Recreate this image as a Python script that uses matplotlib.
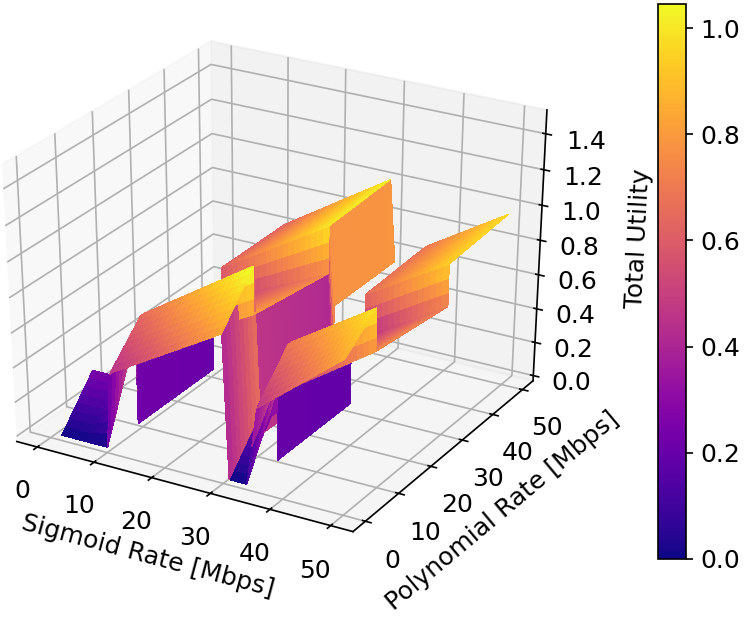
import types
import numpy as np
import matplotlib
matplotlib.use("Agg")
import matplotlib.pyplot as plt
from matplotlib.transforms import Bbox

plt.rcParams["font.size"] = 12
nan = np.nan

# Sigmoid-rate knots (Mbps); a repeated value marks a vertical step
sigmoid_rate = [2, 6.4, 9.8, 9.8, 10.1, 10.8, 11.5, 30, 31,
                33, 34, 34, 35.7, 36.3, 50]
# Polynomial-rate knots (Mbps); a repeated value marks a vertical step
polynomial_rate = [0, 9, 9, 31, 31, 50]

# Total utility at the knots, one list per polynomial-rate knot
util_p0 = [0.00, 0.00, 0.00, 0.00, 0.00, 0.43, 0.45, 0.82, 0.00, 0.00, 0.00, 0.00, 0.45, 0.47, 0.85]
util_p9a = [0.25, 0.25, 0.54, 0.54, 0.57, 0.64, 0.66, 1.07, 0.25, 0.25, 0.42, 0.42, 0.68, 0.70, 1.00]
util_p9b = [nan, nan, 0.00, 0.45, 0.45, 0.46, 0.47, 0.80, 0.12, nan, 0.00, 0.40, 0.43, 0.44, 0.76]
util_p31a = [nan, nan, 0.00, 0.42, 0.42, 0.43, 0.44, 0.73, 0.10, nan, 0.00, 0.38, 0.41, 0.42, 0.70]
util_p31b = [nan, nan, nan, nan, nan, nan, 0.62, 1.00, 0.55, nan, nan, nan, nan, 0.66, 0.94]
util_p50 = [nan, nan, nan, nan, nan, nan, 0.62, 1.02, 0.55, nan, nan, nan, nan, 0.68, 0.97]
utility = [util_p0, util_p9a, util_p9b, util_p31a, util_p31b, util_p50]

x_ticks = [0, 10, 20, 30, 40, 50]
y_ticks = [0, 10, 20, 30, 40, 50]
z_ticks = [0.0, 0.2, 0.4, 0.6, 0.8, 1.0, 1.2, 1.4]


def fine_axis(knots, step, step_cells):
    """Sub-cells per knot interval (a zero-width interval is a vertical step)."""
    seg, frac = [0], [0.0]
    for i in range(len(knots) - 1):
        width = knots[i + 1] - knots[i]
        if width == 0:
            n = step_cells
        else:
            n = max(1, int(np.ceil(width / step - 1e-9)))
        for k in range(1, n + 1):
            seg.append(i)
            frac.append(k / n)
    return seg, frac


def resample(vals, seg, frac):
    vals = np.asarray(vals, float)
    out = np.empty(len(seg))
    for j, (i, t) in enumerate(zip(seg, frac)):
        if t == 0:
            out[j] = vals[i]
        elif t == 1:
            out[j] = vals[i + 1]
        else:
            out[j] = (1 - t) * vals[i] + t * vals[i + 1]
    return out


sx, fx = fine_axis(sigmoid_rate, 1.0, 1)
sy, fy = fine_axis(polynomial_rate, 1.25, 3)
xs = resample(sigmoid_rate, sx, fx)
ys = resample(polynomial_rate, sy, fy)
Zc = np.array([resample(row, sx, fx) for row in utility])
Z = np.array([resample(Zc[:, j], sy, fy) for j in range(Zc.shape[1])]).T
X, Y = np.meshgrid(xs, ys)

fig = plt.figure(figsize=(6.4, 4.8), dpi=150)
ax = fig.add_axes([0.0403, 0.1165, 0.6892, 0.7485], projection="3d")


def _fill_box(self, position=None):
    # keep the full (non-square) panel, as classic mplot3d did
    if position is None:
        position = self.get_position(original=True)
    self._set_position(position.frozen(), "active")


ax.apply_aspect = types.MethodType(_fill_box, ax)
ax.set_box_aspect((1, 1, 1), zoom=0.9862)

surf = ax.plot_surface(X, Y, Z, cmap="plasma", vmin=0, vmax=1.045,
                       rstride=1, cstride=1, linewidth=0, antialiased=False)
pad = 1 / 48
ax.set_xlim(-2.5 - 55 * pad, 52.5 + 55 * pad)
ax.set_ylim(-2.5 - 55 * pad, 52.5 + 55 * pad)
ax.set_zlim(0 - 1.5 * pad, 1.5 + 1.5 * pad)
ax.set_xticks(x_ticks)
ax.set_yticks(y_ticks)
ax.set_zticks(z_ticks)
ax.set_xlabel("Sigmoid Rate [Mbps]")
ax.set_ylabel("Polynomial Rate [Mbps]")
ax.set_zlabel("Total Utility", labelpad=8)

cax = fig.add_axes([0.7888, 0.11, 0.0289, 0.77])
fig.colorbar(surf, cax=cax)

fig.savefig("out.png", dpi=150,
            bbox_inches=Bbox([[0.6613, 0.0933], [5.6413, 4.2533]]))
